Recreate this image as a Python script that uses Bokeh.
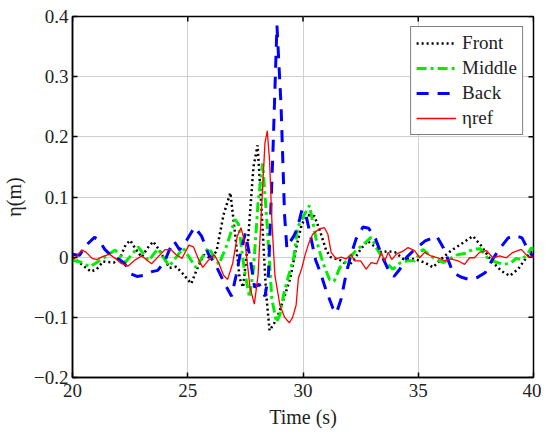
from bokeh.plotting import figure
from bokeh.models import (Range1d, FixedTicker, CustomJSTickFormatter,
                          Legend, LegendItem, ColumnDataSource)
from bokeh.embed import file_html
from bokeh.resources import INLINE

# ---------------- data ----------------
front_t = [20.0, 20.4, 20.8, 21.05, 21.33, 21.55, 21.8, 22.1, 22.3, 22.5, 22.75, 23.0, 23.25, 23.5,
           23.8, 24.2, 24.5, 24.8, 25.15, 25.4, 25.7, 26.0, 26.25, 26.55, 26.85, 27.05, 27.25, 27.4,
           27.6, 27.85, 28.03, 28.2, 28.4, 28.55, 28.75, 28.95, 29.2, 29.45, 29.7, 29.95, 30.2, 30.5,
           30.75, 31.0, 31.2, 31.45, 31.7, 31.95, 32.23, 32.5, 32.8, 33.1, 33.4, 33.7, 34.0, 34.35,
           34.84, 35.28, 35.64, 36.0, 36.43, 36.87, 37.37, 37.73, 38.17, 38.61, 38.97, 39.33, 39.7, 40.0]
front_y = [0.0, -0.012, -0.024, -0.02, -0.007, -0.008, -0.009, 0.002, 0.02, 0.028, 0.013, 0.0, 0.015, 0.026,
           0.01, -0.018, -0.016, -0.028, -0.044, -0.02, 0.004, -0.002, 0.01, 0.07, 0.107, 0.04, -0.035, -0.05,
           0.02, 0.15, 0.186, 0.08, -0.06, -0.122, -0.11, -0.093, -0.065, -0.035, 0.015, 0.055, 0.07, 0.068,
           0.042, 0.012, 0.0, -0.003, -0.006, -0.016, -0.003, 0.013, 0.027, 0.018, 0.008, 0.01, 0.008, -0.003,
           -0.003, -0.009, -0.017, -0.003, 0.011, 0.022, 0.035, 0.019, -0.006, -0.023, -0.031, -0.02, 0.0, 0.013]

middle_t = [20.0, 20.35, 20.75, 21.0, 21.4, 21.85, 22.3, 22.85, 23.3, 23.7, 24.2, 24.8, 25.35, 25.9,
            26.35, 26.7, 27.05, 27.2, 27.45, 27.68, 27.85, 28.05, 28.25, 28.45, 28.65, 28.85, 29.0, 29.2,
            29.6, 29.77, 30.05, 30.28, 30.57, 30.86, 31.15, 31.35, 31.6, 32.0, 32.3, 32.7, 32.95, 33.2,
            33.5, 33.9, 34.2, 34.55, 34.84, 35.2, 35.5, 35.8, 36.1, 36.4, 36.7, 37.0, 37.37, 37.7, 38.0,
            38.35, 38.7, 39.0, 39.25, 39.5, 39.75, 39.92, 40.0]
middle_y = [-0.005, -0.008, -0.016, -0.01, 0.0, 0.012, -0.008, 0.017, -0.006, 0.014, -0.015, 0.015, -0.017, 0.016,
            -0.012, 0.02, 0.063, 0.055, -0.02, -0.067, -0.02, 0.09, 0.156, 0.05, -0.07, -0.108, -0.095, -0.055,
            0.0, 0.05, 0.07, 0.086, 0.03, -0.009, -0.037, -0.04, -0.017, -0.002, 0.011, 0.024, 0.033, 0.015,
            -0.005, -0.02, -0.01, -0.006, -0.006, 0.013, 0.003, -0.004, -0.009, -0.002, 0.004, 0.006, 0.013, 0.014, -0.001,
            -0.008, -0.012, -0.01, -0.002, -0.004, 0.006, 0.016, 0.012]

back_t = [20.0, 20.3, 20.6, 20.95, 21.15, 21.4, 21.7, 22.0, 22.25, 22.55, 22.8, 23.1, 23.45, 23.7,
          24.0, 24.2, 24.4, 24.65, 24.95, 25.3, 25.6, 25.9, 26.2, 26.55, 26.9, 27.1, 27.3, 27.5, 27.7,
          27.9, 28.1, 28.35, 28.5, 28.7, 28.87, 29.05, 29.2, 29.3, 29.45, 29.6, 29.75, 29.95, 30.1, 30.3,
          30.55, 30.75, 31.0, 31.3, 31.45, 31.65, 31.85, 32.05, 32.3, 32.6, 32.85, 33.15, 33.45, 33.75,
          33.95, 34.2, 34.5, 34.85, 35.3, 35.8, 36.1, 36.5, 36.85, 37.2, 37.55, 37.9, 38.2, 38.55, 38.9,
          39.2, 39.5, 39.8, 40.0]
back_y = [0.005, 0.003, 0.02, 0.033, 0.028, 0.013, 0.002, -0.003, -0.01, -0.028, -0.032, -0.03, -0.024, -0.022,
          -0.007, 0.012, 0.027, 0.012, 0.028, 0.05, 0.035, 0.005, -0.012, -0.04, -0.065, -0.03, 0.01, 0.04, 0.0,
          -0.05, -0.045, -0.065, -0.03, 0.18, 0.385, 0.25, 0.07, 0.015, 0.026, 0.035, 0.047, 0.078, 0.075, 0.04,
          -0.005, -0.025, -0.055, -0.085, -0.093, -0.07, -0.032, 0.0, 0.03, 0.05, 0.048, 0.03, 0.0, -0.025,
          -0.032, -0.02, 0.0, 0.013, 0.027, 0.035, 0.015, -0.025, -0.033, -0.037, -0.034, -0.026, -0.005, 0.015, 0.032,
          0.036, 0.032, 0.01, 0.0]

ref_t = [20.0, 20.15, 20.4, 20.6, 20.85, 21.05, 21.3, 21.6, 21.85, 22.1, 22.4, 22.7, 23.0, 23.2, 23.43,
         23.7, 24.0, 24.25, 24.5, 24.75, 25.05, 25.25, 25.45, 25.65, 25.9, 26.15, 26.35, 26.55, 26.73,
         26.95, 27.15, 27.31, 27.5, 27.7, 27.89, 28.05, 28.2, 28.35, 28.45, 28.55, 28.65, 28.78, 29.0,
         29.2, 29.41, 29.55, 29.7, 29.8, 29.95, 30.1, 30.25, 30.42, 30.7, 30.93, 31.08, 31.22, 31.44,
         31.65, 31.87, 32.09, 32.23, 32.5, 32.74, 32.96, 33.2, 33.4, 33.54, 33.7, 33.85, 34.05, 34.34,
         34.56, 34.84, 35.06, 35.28, 35.55, 35.85, 36.14, 36.43, 36.72, 37.01, 37.23, 37.44, 37.66, 37.95,
         38.24, 38.53, 38.82, 39.11, 39.47, 39.76, 40.0]
ref_y = [-0.004, 0.0, 0.012, 0.008, -0.002, -0.004, 0.001, 0.005, -0.002, -0.01, -0.015, -0.005, 0.002, -0.004, -0.011,
         0.0, 0.012, 0.013, 0.004, -0.002, 0.02, 0.017, -0.002, -0.017, -0.005, 0.004, -0.01, -0.03, -0.037,
         -0.01, 0.035, 0.049, 0.02, -0.05, -0.078, -0.03, 0.08, 0.19, 0.21, 0.16, 0.06, -0.03, -0.08,
         -0.1, -0.109, -0.1, -0.08, -0.035, -0.018, 0.005, 0.023, 0.038, 0.047, 0.049, 0.038, 0.008, -0.003,
         0.0, -0.003, 0.005, -0.006, -0.006, -0.02, -0.009, -0.011, 0.008, -0.007, 0.008, -0.004, 0.005, 0.01,
         0.016, 0.011, -0.001, 0.008, 0.002, -0.001, -0.006, -0.003, -0.006, -0.012, -0.001, -0.001, 0.008, 0.011,
         -0.001, 0.002, -0.001, 0.008, 0.013, 0.001, 0.0]

x_ticks = [20, 25, 30, 35, 40]
y_ticks = [-0.2, -0.1, 0.0, 0.1, 0.2, 0.3, 0.4]
series_names = ["Front", "Middle", "Back", "\u03b7ref"]
x_label = "Time (s)"
y_label = "\u03b7(m)"

X_MIN, X_MAX = 20, 40
Y_MIN, Y_MAX = -0.2, 0.4

# ---------------- figure ----------------
FONT = "Liberation Serif"
p = figure(width=541, height=430, output_backend="svg", toolbar_location=None,
           x_range=Range1d(X_MIN, X_MAX), y_range=Range1d(Y_MIN, Y_MAX),
           min_border_left=65, min_border_right=8, min_border_top=16, min_border_bottom=51,
           background_fill_color="white", border_fill_color="white")
p.outline_line_color = "black"
p.outline_line_width = 1.5
p.outline_line_alpha = 1.0

yfmt = CustomJSTickFormatter(code="""
if (Math.abs(tick) < 1e-9) { return "0"; }
return (tick < 0 ? "\\u2212" : "") + Math.abs(tick).toFixed(1);
""")

xa = p.xaxis[0]
xa.ticker = FixedTicker(ticks=x_ticks)
ya = p.yaxis[0]
ya.ticker = FixedTicker(ticks=y_ticks)
ya.formatter = yfmt
for ax in (xa, ya):
    ax.major_tick_in = 5
    ax.major_tick_out = 0
    ax.minor_tick_line_color = None
    ax.axis_line_color = "black"
    ax.axis_line_width = 1.5
    ax.major_tick_line_color = "black"
    ax.major_tick_line_width = 1.5
    ax.major_label_text_font = FONT
    ax.major_label_text_font_style = "normal"
    ax.major_label_text_font_size = "19px"
    ax.major_label_text_color = "#222222"
    ax.axis_label_text_font = FONT
    ax.axis_label_text_font_size = "20px"
    ax.axis_label_text_font_style = "normal"
    ax.axis_label_text_color = "#222222"
xa.axis_label = x_label
ya.axis_label = y_label
xa.major_label_standoff = 6
xa.axis_label_standoff = 6
ya.major_label_standoff = 4
ya.axis_label_standoff = 6

p.xgrid.grid_line_color = "#d0d0d0"
p.ygrid.grid_line_color = "#d0d0d0"
p.xgrid.grid_line_width = 1
p.ygrid.grid_line_width = 1

# inward tick marks on the top and right edges of the box (from the tick lists)
tick_dx = (X_MAX - X_MIN) * 5 / 461.0
tick_dy = (Y_MAX - Y_MIN) * 5 / 360.0
p.segment(x0=x_ticks, y0=[Y_MAX] * len(x_ticks), x1=x_ticks, y1=[Y_MAX - tick_dy] * len(x_ticks),
          line_color="black", line_width=1.5)
p.segment(x0=[X_MAX] * len(y_ticks), y0=y_ticks, x1=[X_MAX - tick_dx] * len(y_ticks), y1=y_ticks,
          line_color="black", line_width=1.5)

src_f = ColumnDataSource(dict(t=front_t, y=front_y))
src_m = ColumnDataSource(dict(t=middle_t, y=middle_y))
src_b = ColumnDataSource(dict(t=back_t, y=back_y))
src_r = ColumnDataSource(dict(t=ref_t, y=ref_y))

r_f = p.line("t", "y", source=src_f, line_color="black", line_width=2.5, line_dash="2 3")
r_m = p.line("t", "y", source=src_m, line_color="#00ee00", line_width=3, line_dash="10 4 3 4")
r_b = p.line("t", "y", source=src_b, line_color="#0000ff", line_width=3, line_dash="12 9")
r_r = p.line("t", "y", source=src_r, line_color="#ff0000", line_width=1.3)

legend = Legend(items=[LegendItem(label=series_names[0], renderers=[r_f]),
                       LegendItem(label=series_names[1], renderers=[r_m]),
                       LegendItem(label=series_names[2], renderers=[r_b]),
                       LegendItem(label=series_names[3], renderers=[r_r])],
                location="top_right", margin=10, padding=5, spacing=3,
                glyph_width=40, glyph_height=20, label_height=20, label_standoff=6,
                label_text_font=FONT, label_text_font_style="normal",
                label_text_font_size="19px", label_text_color="#222222",
                border_line_color="black", border_line_width=1.5, background_fill_alpha=1.0)
p.add_layout(legend)

open("out.html", "w").write(file_html(p, INLINE))
